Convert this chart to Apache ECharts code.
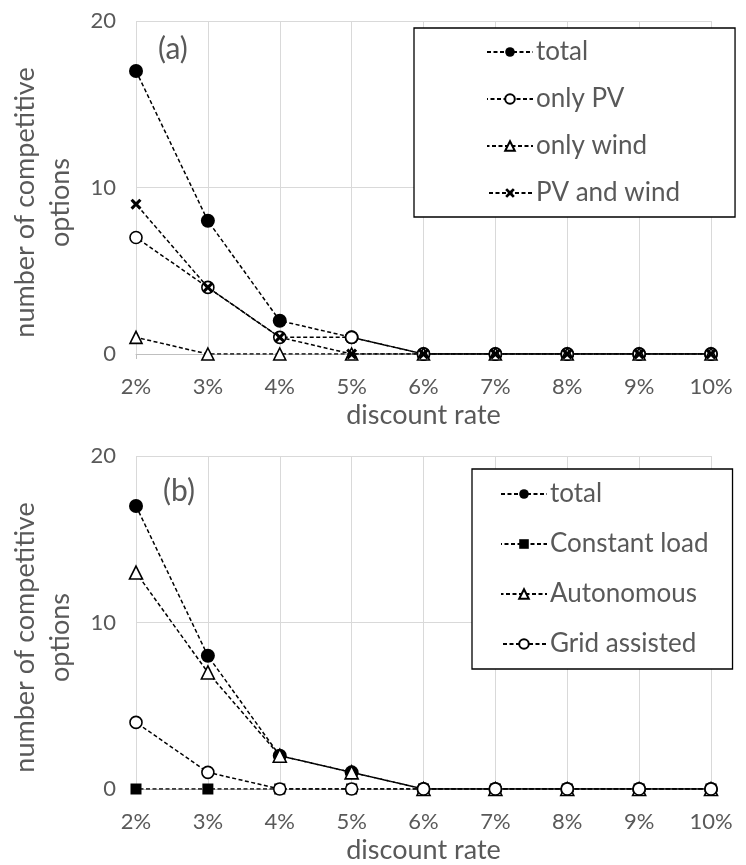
<!DOCTYPE html>
<html>
<head>
<meta charset="utf-8">
<script src="https://cdn.jsdelivr.net/npm/echarts@6/dist/echarts.min.js"></script>
<style>
html,body{margin:0;padding:0;background:#fff;}
#chart{width:746px;height:865px;}
</style>
</head>
<body>
<div id="chart"></div>
<script>
const categories = ['2%','3%','4%','5%','6%','7%','8%','9%','10%'];
// panel (a)
const totalA    = [17, 8, 2, 1, 0, 0, 0, 0, 0];
const onlyPV    = [7, 4, 1, 1, 0, 0, 0, 0, 0];
const onlyWind  = [1, 0, 0, 0, 0, 0, 0, 0, 0];
const pvAndWind = [9, 4, 1, 0, 0, 0, 0, 0, 0];
// panel (b)
const totalB       = [17, 8, 2, 1, 0, 0, 0, 0, 0];
const constantLoad = [0, 0, 0, 0, 0, 0, 0, 0, 0];
const autonomous   = [13, 7, 2, 1, 0, 0, 0, 0, 0];
const gridAssisted = [4, 1, 0, 0, 0, 0, 0, 0, 0];
const yMin = 0, yMax = 20, yStep = 10;
const namesA = ['total', 'only PV', 'only wind', 'PV and wind'];
const namesB = ['total', 'Constant load', 'Autonomous', 'Grid assisted'];

const FONT = 'Lato';
const GRAY = '#595959';
const GRID = '#d9d9d9';
const crossPath = 'path://M2,0 L5,3 L8,0 L10,2 L7,5 L10,8 L8,10 L5,7 L2,10 L0,8 L3,5 L0,2 Z';

function mkSeries(name, data, idx, symbol, size, fill, offset) {
  return {
    type: 'line', name: name, data: data,
    xAxisIndex: idx, yAxisIndex: idx,
    symbol: symbol, symbolSize: size, showSymbol: true,
    animation: false,
    lineStyle: { color: '#000', width: 1.5, type: [4, 2.5], dashOffset: offset },
    itemStyle: { color: fill, borderColor: '#000', borderWidth: fill === '#fff' ? 1.6 : 0 },
    emphasis: { disabled: true }
  };
}

function xAxis(idx) {
  return {
    type: 'category', gridIndex: idx, data: categories, boundaryGap: false,
    axisLine: { show: true, lineStyle: { color: '#bfbfbf', width: 1 } },
    axisTick: { show: true, length: 5, lineStyle: { color: '#bfbfbf' } },
    axisLabel: { color: GRAY, fontFamily: FONT, fontSize: 22, margin: 22 },
    splitLine: { show: true, lineStyle: { color: GRID, width: 1 } },
    name: 'discount rate', nameLocation: 'middle', nameGap: 48,
    nameTextStyle: { color: GRAY, fontFamily: FONT, fontSize: 27 }
  };
}
function yAxis(idx) {
  return {
    type: 'value', gridIndex: idx, min: yMin, max: yMax, interval: yStep,
    axisLine: { show: false }, axisTick: { show: false },
    axisLabel: { color: GRAY, fontFamily: FONT, fontSize: 22, margin: 20 },
    splitLine: { show: true, lineStyle: { color: GRID, width: 1 } },
    name: 'number of competitive\noptions', nameLocation: 'middle', nameGap: 58, nameRotate: 90,
    nameTextStyle: { color: GRAY, fontFamily: FONT, fontSize: 27, lineHeight: 35, padding: [0, 30, 0, 0] }
  };
}

const legendCommon = {
  orient: 'vertical', itemWidth: 46, itemHeight: 12,
  borderColor: '#000', borderWidth: 1.3, backgroundColor: '#fff',
  textStyle: { color: GRAY, fontFamily: FONT, fontSize: 26, lineHeight: 30, padding: [0, 0, 0, -2] },
  selectedMode: false
};

const option = {
  backgroundColor: '#fff',
  animation: false,
  title: [
    { text: '(a)', left: 153, top: 29, textStyle: { color: GRAY, fontFamily: FONT, fontSize: 30, fontWeight: 'normal' } },
    { text: '(b)', left: 158, top: 471, textStyle: { color: GRAY, fontFamily: FONT, fontSize: 30, fontWeight: 'normal' } }
  ],
  grid: [
    { left: 135, top: 21, width: 576, height: 333 },
    { left: 135, top: 456, width: 576, height: 334 }
  ],
  xAxis: [xAxis(0), xAxis(1)],
  yAxis: [yAxis(0), yAxis(1)],
  legend: [
    Object.assign({}, legendCommon, { left: 414, top: 28, data: namesA, itemGap: 17, padding: [9, 55, 9, 72] }),
    Object.assign({}, legendCommon, { left: 472, top: 469, data: namesB, itemGap: 20, padding: [10, 24, 10, 28] })
  ],
  series: [
    mkSeries(namesA[0], totalA, 0, 'circle', 14, '#000', 0),
    mkSeries(namesA[1], onlyPV, 0, 'circle', 12, '#fff', 3),
    mkSeries(namesA[2], onlyWind, 0, 'triangle', 12, '#fff', 1.5),
    mkSeries(namesA[3], pvAndWind, 0, crossPath, 11, '#000', 4.5),
    mkSeries(namesB[0], totalB, 1, 'circle', 14, '#000', 0),
    mkSeries(namesB[1], constantLoad, 1, 'rect', 11, '#000', 3),
    mkSeries(namesB[2], autonomous, 1, 'triangle', 13, '#fff', 1.5),
    mkSeries(namesB[3], gridAssisted, 1, 'circle', 12, '#fff', 4.5)
  ]
};

const chart = echarts.init(document.getElementById('chart'), null, { renderer: 'canvas' });
chart.setOption(option);
</script>
</body>
</html>
